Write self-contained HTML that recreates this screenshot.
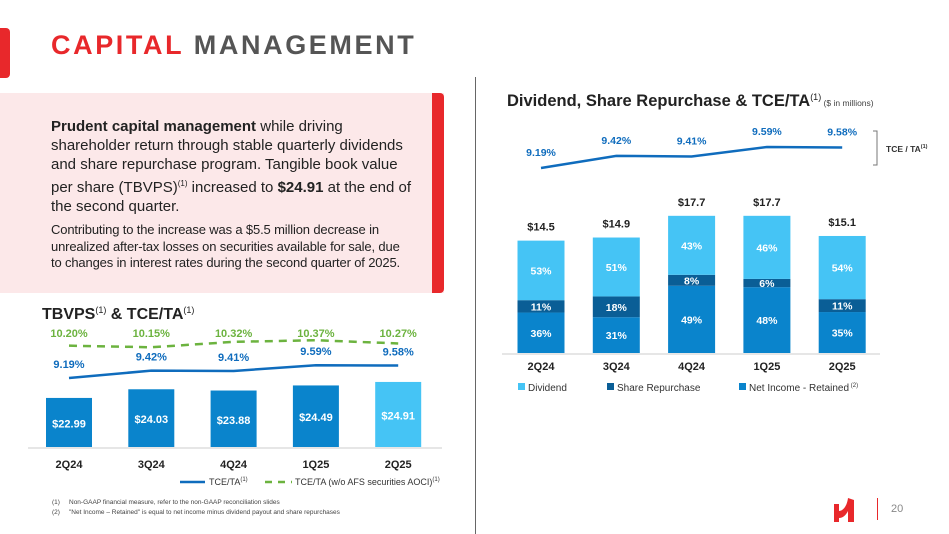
<!DOCTYPE html>
<html><head><meta charset="utf-8"><style>
body{margin:0;width:949px;height:534px;background:#fff;position:relative;overflow:hidden;font-family:"Liberation Sans",sans-serif}
.a{position:absolute}
</style></head><body>
<div class="a" style="left:0;top:28px;width:10px;height:50px;background:#e8282b;border-radius:0 4px 4px 0"></div>
<div class="a" style="left:51px;top:30px;font-size:27px;font-weight:bold;letter-spacing:2.6px;color:#555"><span style="color:#e8282b">CAPITAL</span> MANAGEMENT</div>
<div class="a" style="left:0;top:93px;width:444px;height:200px;background:#fce8e9"></div>
<div class="a" style="left:432px;top:93px;width:12px;height:200px;background:#e8282b;border-radius:0 4px 4px 0"></div>
<div class="a" style="left:51px;top:117px;width:380px;font-size:15px;line-height:19px;color:#222;white-space:nowrap"><b>Prudent capital management</b> while driving<br>shareholder return through stable quarterly dividends<br>and share repurchase program. Tangible book value<br>per share (TBVPS)<sup style="font-size:8px">(1)</sup> increased to <b>$24.91</b> at the end of<br>the second quarter.</div>
<div class="a" style="left:51px;top:222px;width:380px;font-size:13px;line-height:16.5px;color:#222;white-space:nowrap;letter-spacing:-0.15px">Contributing to the increase was a $5.5 million decrease in<br>unrealized after-tax losses on securities available for sale, due<br>to changes in interest rates during the second quarter of 2025.</div>
<div class="a" style="left:475px;top:77px;width:1px;height:457px;background:#666"></div>
<div class="a" style="left:877px;top:498px;width:1px;height:22px;background:#e8282b"></div>
<div class="a" style="left:891px;top:503px;font-size:11px;color:#888">20</div>
<svg class="a" style="left:832px;top:496px" width="30" height="26"><path d="M2 8h5v7c4 0 8-5 9-13l6 2v23h-6V15c-2 4-5 7-9 7v4H2z" fill="#e8282b"/></svg>
<svg id="c" class="a" style="left:0;top:0" width="949" height="534" font-family="Liberation Sans, sans-serif"></svg>
<script>
const cats=["2Q24","3Q24","4Q24","1Q25","2Q25"];
const tbvps=[22.99,24.03,23.88,24.49,24.91];
const tce=[9.19,9.42,9.41,9.59,9.58];
const tceAoci=[10.20,10.15,10.32,10.37,10.27];
const totals=[14.5,14.9,17.7,17.7,15.1];
const retainedPct=[36,31,49,48,35];
const repurchPct=[11,18,8,6,11];
const divPct=[53,51,43,46,54];
const NS="http://www.w3.org/2000/svg",svg=document.getElementById('c');
function el(t,at,txt){const e=document.createElementNS(NS,t);for(const k in at)e.setAttribute(k,at[k]);if(txt!==undefined)e.textContent=txt;svg.appendChild(e);return e;}
function tx(x,y,s,o){return el('text',Object.assign({x:x,y:y,'text-anchor':'middle','font-size':11,'font-weight':'bold'},o||{}),s);}
// left chart
const lx=i=>69+i*82.3, base=447, ly=v=>base-(v-17.1)*8.33, py=v=>378-(v-9.19)*32;
let t=tx(42,319,"",{'text-anchor':'start','font-size':16,fill:'#222'});
t.innerHTML='TBVPS<tspan font-size="9" font-weight="normal" dy="-6">(1)</tspan><tspan dy="6"> &amp; TCE/TA</tspan><tspan font-size="9" font-weight="normal" dy="-6">(1)</tspan>';

let ax=el('line',{x1:28,x2:442,y1:base+1,y2:base+1,stroke:'#ccc'});

cats.forEach((c,i)=>{
 const r=el('rect',{x:lx(i)-23,y:ly(tbvps[i]),width:46,height:base-ly(tbvps[i]),fill:i==4?'#45c4f5':'#0a84cc'});
 
 tx(lx(i),ly(tbvps[i])+(base-ly(tbvps[i]))/2+5,'$'+tbvps[i].toFixed(2),{fill:'#fff'});
 const l=tx(lx(i),468,c,{fill:'#222'});
 tx(lx(i),py(tce[i])-10,tce[i].toFixed(2)+'%',{fill:'#0f6cbd'});
 tx(lx(i),337,tceAoci[i].toFixed(2)+'%',{fill:'#6cb33f'});
});
let p1=el('polyline',{points:cats.map((c,i)=>lx(i)+','+py(tce[i])).join(' '),fill:'none',stroke:'#0f6cbd','stroke-width':2.5});

let p2=el('polyline',{points:cats.map((c,i)=>lx(i)+','+py(tceAoci[i])).join(' '),fill:'none',stroke:'#6cb33f','stroke-width':2.5,'stroke-dasharray':'8,6'});

el('line',{x1:180,x2:205,y1:482,y2:482,stroke:'#0f6cbd','stroke-width':2.5});
t=tx(209,485,'',{'text-anchor':'start','font-size':9,'font-weight':'normal',fill:'#333'});t.innerHTML='TCE/TA<tspan font-size="6" dy="-4">(1)</tspan>';

el('line',{x1:265,x2:292,y1:482,y2:482,stroke:'#6cb33f','stroke-width':2.5,'stroke-dasharray':'7,6'});
t=tx(295,485,'',{'text-anchor':'start','font-size':9,'font-weight':'normal',fill:'#333'});t.innerHTML='TCE/TA (w/o AFS securities AOCI)<tspan font-size="6" dy="-4">(1)</tspan>';

tx(52,504,'(1)',{'text-anchor':'start','font-size':6.5,'font-weight':'normal',fill:'#444'});
tx(69,504,'Non-GAAP financial measure, refer to the non-GAAP reconciliation slides',{'text-anchor':'start','font-size':6.5,'font-weight':'normal',fill:'#444'});
tx(52,514,'(2)',{'text-anchor':'start','font-size':6.5,'font-weight':'normal',fill:'#444'});
tx(69,514,'"Net Income – Retained" is equal to net income minus dividend payout and share repurchases',{'text-anchor':'start','font-size':6.5,'font-weight':'normal',fill:'#444'});
// right chart
t=tx(507,106,'',{'text-anchor':'start','font-size':16.5,fill:'#222'});
t.innerHTML='Dividend, Share Repurchase &amp; TCE/TA<tspan font-size="9" font-weight="normal" dy="-6">(1)</tspan><tspan font-size="8.5" font-weight="normal" dy="6" fill="#444">  ($ in millions)</tspan>';

const rx=i=>541+i*75.3, rb=353, rk=7.75, ry=v=>168-(v-9.19)*52.5;
el('line',{x1:502,x2:880,y1:rb+1,y2:rb+1,stroke:'#ccc'});
cats.forEach((c,i)=>{
 const H=totals[i]*rk;let y=rb;
 [[retainedPct,'#0a84cc','retained'],[repurchPct,'#0a5e96','repurchase'],[divPct,'#45c4f5','dividend']].forEach(([arr,col,n])=>{
  const h=H*arr[i]/100;y-=h;
  const r=el('rect',{x:rx(i)-23.5,y:y,width:47,height:h,fill:col});
  
  tx(rx(i),y+h/2+4,arr[i]+'%',{fill:'#fff','font-size':10.5});
 });
 tx(rx(i),rb-H-10,'$'+totals[i].toFixed(1),{fill:'#222'});
 const l=tx(rx(i),370,c,{fill:'#222'});
 tx(rx(i),ry(tce[i])-12,tce[i].toFixed(2)+'%',{fill:'#0f6cbd','font-size':10.5});
});
let p3=el('polyline',{points:cats.map((c,i)=>rx(i)+','+ry(tce[i])).join(' '),fill:'none',stroke:'#0f6cbd','stroke-width':2.5});

el('polyline',{points:'873,131 877,131 877,165 873,165',fill:'none',stroke:'#777','stroke-width':1});
t=tx(886,152,'',{'text-anchor':'start','font-size':8.5,fill:'#333'});t.innerHTML='TCE / TA<tspan font-size="5.5" dy="-4">(1)</tspan>';
[[518,'#45c4f5','Dividend'],[607,'#0a5e96','Share Repurchase'],[739,'#0a84cc','Net Income - Retained']].forEach(([x,c,s],k)=>{
 el('rect',{x:x,y:383,width:7,height:7,fill:c});
 const e=tx(x+10,391,'',{'text-anchor':'start','font-size':10,'font-weight':'normal',fill:'#333'});
 e.innerHTML=s+(k==2?'<tspan font-size="6" dy="-4"> (2)</tspan>':'');
 
});
</script>
</body></html>
